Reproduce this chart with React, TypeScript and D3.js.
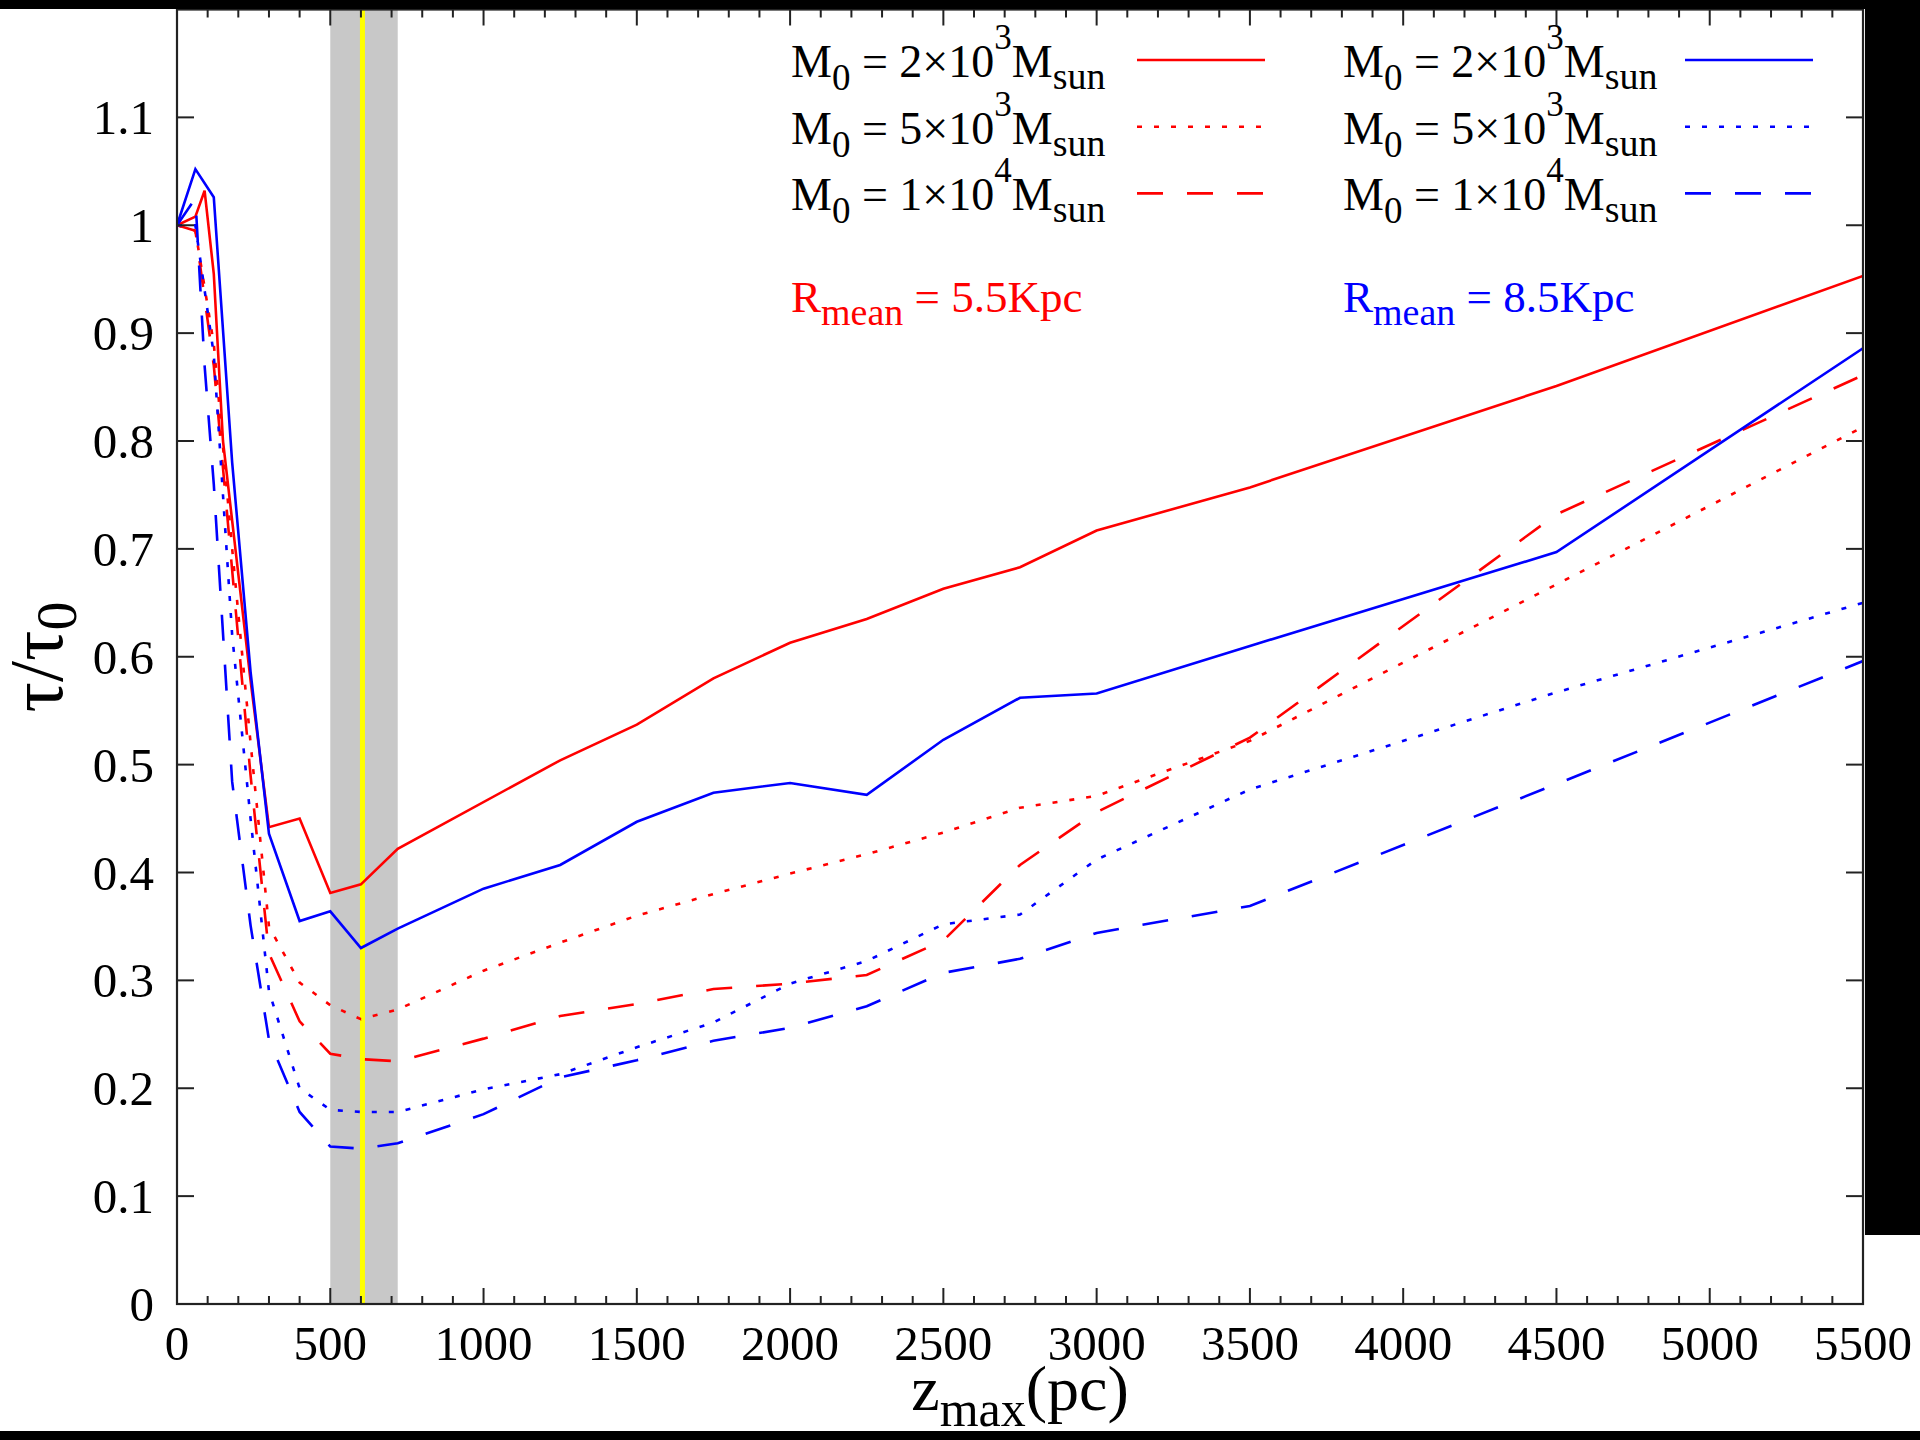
import React from "react";
import * as d3 from "d3";

// ---------- data ----------
const xTicks = [0, 500, 1000, 1500, 2000, 2500, 3000, 3500, 4000, 4500, 5000, 5500];
const yTicks = [0, 0.1, 0.2, 0.3, 0.4, 0.5, 0.6, 0.7, 0.8, 0.9, 1.0, 1.1];
const yTickLabels = ["0", "0.1", "0.2", "0.3", "0.4", "0.5", "0.6", "0.7", "0.8", "0.9", "1", "1.1"];

// R_mean = 5.5 Kpc (red)
const zRedSolid = [0, 60, 90, 120, 150, 180, 240, 300, 400, 500, 600, 720, 1250, 1500, 1750, 2000, 2250, 2500, 2750, 3000, 3500, 4500, 5500];
const tRedSolid = [1.0, 1.008, 1.032, 0.955, 0.8, 0.726, 0.578, 0.442, 0.45, 0.381, 0.389, 0.422, 0.504, 0.537, 0.58, 0.613, 0.635, 0.663, 0.683, 0.717, 0.757, 0.851, 0.953];

const zRedDotted = [0, 60, 120, 180, 240, 300, 400, 500, 600, 720, 1000, 1250, 1500, 1750, 2000, 2250, 2500, 2750, 3000, 3500, 4500, 5500];
const tRedDotted = [1.0, 0.995, 0.89, 0.7, 0.52, 0.35, 0.298, 0.277, 0.264, 0.273, 0.309, 0.335, 0.36, 0.38, 0.399, 0.417, 0.437, 0.46, 0.471, 0.522, 0.667, 0.813];

const zRedDashed = [0, 60, 120, 180, 240, 300, 400, 500, 600, 720, 1000, 1250, 1500, 1750, 2000, 2250, 2500, 2750, 3000, 3500, 4500, 5500];
const tRedDashed = [1.0, 0.995, 0.87, 0.68, 0.49, 0.325, 0.262, 0.232, 0.227, 0.225, 0.246, 0.267, 0.278, 0.292, 0.297, 0.305, 0.337, 0.407, 0.456, 0.525, 0.732, 0.861];

// R_mean = 8.5 Kpc (blue)
const zBlueSolid = [0, 60, 120, 180, 240, 300, 400, 500, 600, 720, 1000, 1250, 1500, 1750, 2000, 2250, 2500, 2750, 3000, 3500, 4500, 5500];
const tBlueSolid = [1.0, 1.052, 1.026, 0.78, 0.586, 0.436, 0.355, 0.364, 0.33, 0.348, 0.385, 0.407, 0.447, 0.474, 0.483, 0.472, 0.523, 0.562, 0.566, 0.61, 0.697, 0.886];

const zBlueDotted = [0, 60, 120, 180, 240, 300, 400, 500, 600, 720, 1000, 1250, 1500, 1750, 2000, 2250, 2500, 2750, 3000, 3500, 4500, 5500];
const tBlueDotted = [1.0, 1.0, 0.88, 0.62, 0.45, 0.29, 0.2, 0.18, 0.178, 0.178, 0.199, 0.213, 0.238, 0.261, 0.297, 0.318, 0.352, 0.361, 0.412, 0.477, 0.567, 0.65];

const zBlueDashed = [0, 60, 90, 120, 180, 240, 300, 400, 500, 600, 720, 1000, 1250, 1500, 1750, 2000, 2250, 2500, 2750, 3000, 3500, 4500, 5500];
const tBlueDashed = [1.0, 1.025, 0.87, 0.76, 0.484, 0.351, 0.245, 0.178, 0.146, 0.144, 0.149, 0.176, 0.21, 0.226, 0.244, 0.256, 0.276, 0.307, 0.32, 0.344, 0.369, 0.482, 0.596];

const massMant = ["2×10", "5×10", "1×10"];
const massExp = ["3", "3", "4"];
const rMeanLabels = ["= 5.5Kpc", "= 8.5Kpc"];

// highlighted z range and marker
const bandRange = [500, 720];
const markerZ = 605;

// ---------- layout ----------
const W = 1920;
const H = 1440;
const PL = 177, PR = 1863, PT = 9.5, PB = 1304;
const RED = "#ff0000";
const BLUE = "#0000ff";
const FONT = "'Liberation Serif', 'Times New Roman', Times, serif";
const DOT = "5,12";
const DASH = "26,24";

const x = d3.scaleLinear().domain([0, 5500]).range([PL, PR]);
const y = d3.scaleLinear().domain([0, 1.2]).range([PB, PT]);

type Series = { z: number[]; t: number[]; color: string; dash: string | null };
const series: Series[] = [
  { z: zRedSolid, t: tRedSolid, color: RED, dash: null },
  { z: zRedDotted, t: tRedDotted, color: RED, dash: DOT },
  { z: zRedDashed, t: tRedDashed, color: RED, dash: DASH },
  { z: zBlueSolid, t: tBlueSolid, color: BLUE, dash: null },
  { z: zBlueDotted, t: tBlueDotted, color: BLUE, dash: DOT },
  { z: zBlueDashed, t: tBlueDashed, color: BLUE, dash: DASH },
];

const line = d3
  .line<[number, number]>()
  .x((d) => x(d[0]))
  .y((d) => y(d[1]));

const minorX = d3.range(0, 5501, 100).filter((v) => v % 500 !== 0);

export default function App() {
  const legendRows = [0, 1, 2];
  const dashes = [null, DOT, DASH];
  return (
    <div style={{ position: "absolute", left: 0, top: 0 }}>
      <svg width={W} height={H} viewBox={`0 0 ${W} ${H}`} style={{ display: "block", fontFamily: FONT }}>
        <rect x={0} y={0} width={W} height={H} fill="#ffffff" />
        <defs>
          <clipPath id="plotclip">
            <rect x={PL} y={PT} width={PR - PL} height={PB - PT} />
          </clipPath>
        </defs>

        {/* shaded band and marker */}
        <rect x={x(bandRange[0])} y={PT} width={x(bandRange[1]) - x(bandRange[0])} height={PB - PT} fill="#c8c8c8" />
        <line x1={x(markerZ)} x2={x(markerZ)} y1={PT} y2={PB} stroke="#ffff00" strokeWidth={5} />

        {/* data */}
        <g clipPath="url(#plotclip)">
          {series.map((s, i) => (
            <path
              key={i}
              d={line(s.z.map((z, j) => [z, s.t[j]] as [number, number])) || ""}
              fill="none"
              stroke={s.color}
              strokeWidth={2.6}
              strokeDasharray={s.dash || undefined}
              strokeLinejoin="miter"
            />
          ))}
        </g>

        {/* frame */}
        <rect x={PL} y={PT} width={PR - PL} height={PB - PT} fill="none" stroke="#222" strokeWidth={2.2} />

        {/* x ticks */}
        {xTicks.map((v) => (
          <g key={"xt" + v}>
            <line x1={x(v)} x2={x(v)} y1={PB} y2={PB - 16} stroke="#222" strokeWidth={2} />
            <line x1={x(v)} x2={x(v)} y1={PT} y2={PT + 16} stroke="#222" strokeWidth={2} />
            <text x={x(v)} y={1360} textAnchor="middle" fontSize={49} fill="#000">
              {String(v)}
            </text>
          </g>
        ))}
        {minorX.map((v) => (
          <g key={"xm" + v}>
            <line x1={x(v)} x2={x(v)} y1={PB} y2={PB - 8} stroke="#222" strokeWidth={2} />
            <line x1={x(v)} x2={x(v)} y1={PT} y2={PT + 8} stroke="#222" strokeWidth={2} />
          </g>
        ))}

        {/* y ticks */}
        {yTicks.map((v, i) => (
          <g key={"yt" + i}>
            <line x1={PL} x2={PL + 17} y1={y(v)} y2={y(v)} stroke="#222" strokeWidth={2} />
            <line x1={PR} x2={PR - 17} y1={y(v)} y2={y(v)} stroke="#222" strokeWidth={2} />
            <text x={154} y={y(v) + 17} textAnchor="end" fontSize={49} fill="#000">
              {yTickLabels[i]}
            </text>
          </g>
        ))}

        {/* axis titles */}
        <text x={1020} y={1410} textAnchor="middle" fontSize={64} fill="#000">
          z<tspan fontSize={50} dy={16}>max</tspan>
          <tspan dy={-16}>(pc)</tspan>
        </text>
        <text transform="translate(62,657) rotate(-90)" textAnchor="middle" fontSize={76} fill="#000">
          τ/τ<tspan fontSize={58} dy={14}>0</tspan>
        </text>

        {/* legend */}
        {[0, 1].map((col) => (
          <g key={"col" + col}>
            {legendRows.map((r) => {
              const tx = col === 0 ? 791 : 1343;
              const ty = 77 + r * 66.7;
              const lx1 = col === 0 ? 1137 : 1685;
              const lx2 = col === 0 ? 1265 : 1813;
              const color = col === 0 ? RED : BLUE;
              const ds = dashes[r];
              return (
                <g key={"lg" + col + r}>
                  <text x={tx} y={ty} fontSize={46} fill="#000">
                    M<tspan fontSize={37} dy={13}>0</tspan>
                    <tspan dy={-13}>{" = " + massMant[r]}</tspan>
                    <tspan fontSize={35} dy={-28}>{massExp[r]}</tspan>
                    <tspan dy={28}>M</tspan>
                    <tspan fontSize={38} dy={12}>sun</tspan>
                  </text>
                  <line
                    x1={lx1}
                    x2={lx2}
                    y1={ty - 17}
                    y2={ty - 17}
                    stroke={color}
                    strokeWidth={2.6}
                    strokeDasharray={ds || undefined}
                  />
                </g>
              );
            })}
            <text x={col === 0 ? 791 : 1343} y={312} fontSize={45} fill={col === 0 ? RED : BLUE}>
              R<tspan fontSize={38} dy={13}>mean</tspan>
              <tspan dy={-13}>{" " + rMeanLabels[col]}</tspan>
            </text>
          </g>
        ))}

        {/* black borders of the screenshot */}
        <rect x={0} y={0} width={W} height={9} fill="#000" />
        <rect x={0} y={1431} width={W} height={9} fill="#000" />
        <rect x={1865} y={0} width={W - 1865} height={1235} fill="#000" />
      </svg>
    </div>
  );
}
